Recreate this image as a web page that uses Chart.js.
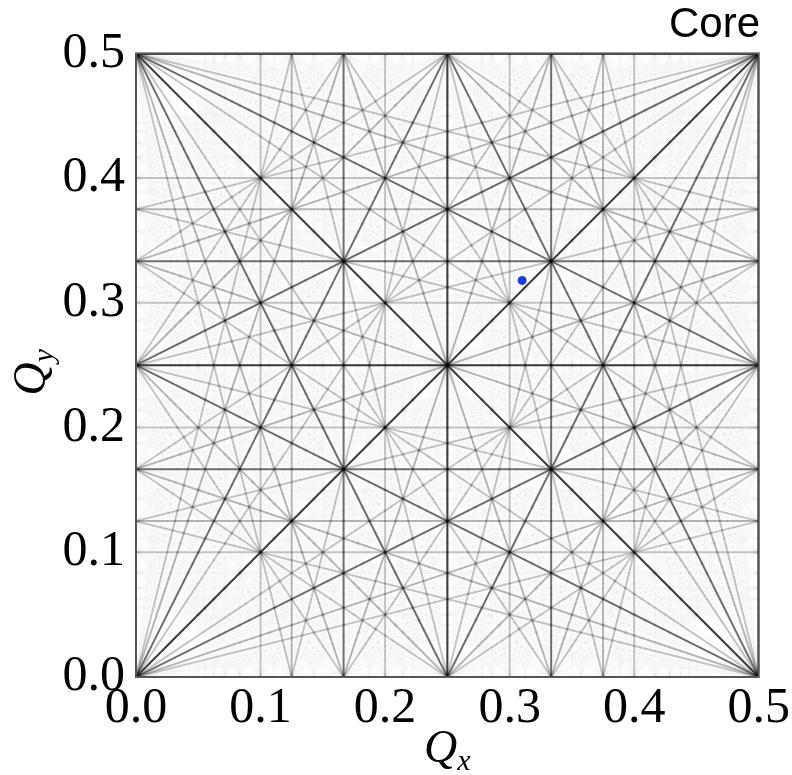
<!DOCTYPE html>
<html lang="en">
<head>
<meta charset="UTF-8">
<title>Core - tune diagram</title>
<script src="https://cdn.jsdelivr.net/npm/chart.js"></script>
<style>
  html, body { margin: 0; padding: 0; background: #fff; }
</style>
</head>
<body>
<canvas id="tuneChart" width="792" height="775"></canvas>
<script>
// resonance orders m*x + n*y = p (|m|+|n| = order) on the unit tune square,
// shown on the 0..0.5 axes; opacity of each order
const orders     = [1, 2, 3, 4, 5, 6, 7, 8, 9, 10];
const orderAlpha = [0.7, 0.65, 0.55, 0.28, 0.22, 0.03, 0.025, 0.02, 0.02, 0.02];
const axisScale  = 0.5;

// working point
const tuneQx = [0.31];
const tuneQy = [0.318];

const tickLabels = ['0.0', '0.1', '0.2', '0.3', '0.4', '0.5'];

// end points of m*x + n*y = p inside the unit square
function clipLine(m, n, p) {
    const eps = 1e-9;
    const pts = [];
    if (n !== 0) {
        for (const x of [0, 1]) {
            const y = (p - m * x) / n;
            if (y >= -eps && y <= 1 + eps) pts.push({ x: x, y: y });
        }
    }
    if (m !== 0) {
        for (const y of [0, 1]) {
            const x = (p - n * y) / m;
            if (x >= -eps && x <= 1 + eps) pts.push({ x: x, y: y });
        }
    }
    const uniq = [];
    for (const pt of pts) {
        if (!uniq.some(u => Math.abs(u.x - pt.x) < 1e-7 && Math.abs(u.y - pt.y) < 1e-7)) uniq.push(pt);
    }
    if (uniq.length < 2) return null;
    return uniq.slice(0, 2).map(pt => ({ x: pt.x * axisScale, y: pt.y * axisScale }));
}

const datasets = [];
orders.forEach((k, i) => {
    for (let m = 0; m <= k; m++) {
        const nAbs = k - m;
        const signs = (m === 0 || nAbs === 0) ? [1] : [1, -1];
        for (const s of signs) {
            const n = s * nAbs;
            const pMin = Math.ceil(Math.min(0, m) + Math.min(0, n) - 1e-9);
            const pMax = Math.floor(Math.max(0, m) + Math.max(0, n) + 1e-9);
            for (let p = pMin; p <= pMax; p++) {
                const seg = clipLine(m, n, p);
                if (!seg) continue;
                datasets.push({
                    data: seg,
                    showLine: true,
                    pointRadius: 0,
                    borderWidth: 2,
                    borderColor: 'rgba(0,0,0,' + orderAlpha[i] + ')'
                });
            }
        }
    }
});

datasets.push({
    data: tuneQx.map((x, i) => ({ x: x, y: tuneQy[i] })),
    showLine: false,
    pointRadius: 4.5,
    pointBorderWidth: 0,
    backgroundColor: '#1f3fe0',
    borderColor: '#1f3fe0'
});

// frame and math-style axis titles
const framePlugin = {
    id: 'frame',
    afterDraw(chart) {
        const { ctx, chartArea: a } = chart;
        ctx.save();
        ctx.strokeStyle = '#555';
        ctx.lineWidth = 2;
        ctx.strokeRect(a.left, a.top, a.right - a.left, a.bottom - a.top);

        ctx.fillStyle = '#000';
        ctx.textBaseline = 'alphabetic';
        // Q_x
        ctx.font = 'italic 46px "Liberation Serif"';
        let w = ctx.measureText('Q').width;
        ctx.font = 'italic 30px "Liberation Serif"';
        let ws = ctx.measureText('x').width;
        let x0 = (a.left + a.right) / 2 - (w + ws) / 2;
        ctx.font = 'italic 46px "Liberation Serif"';
        ctx.fillText('Q', x0, 762);
        ctx.font = 'italic 30px "Liberation Serif"';
        ctx.fillText('x', x0 + w, 770);

        // Q_y
        ctx.translate(45, (a.top + a.bottom) / 2 + 7);
        ctx.rotate(-Math.PI / 2);
        ctx.font = 'italic 46px "Liberation Serif"';
        w = ctx.measureText('Q').width;
        ctx.font = 'italic 30px "Liberation Serif"';
        ws = ctx.measureText('y').width;
        x0 = -(w + ws) / 2;
        ctx.font = 'italic 46px "Liberation Serif"';
        ctx.fillText('Q', x0, 0);
        ctx.font = 'italic 30px "Liberation Serif"';
        ctx.fillText('y', x0 + w, 8);
        ctx.restore();
    }
};

const tickFont = { family: '"Liberation Serif", serif', size: 50 };

new Chart(document.getElementById('tuneChart').getContext('2d'), {
    type: 'scatter',
    data: { datasets: datasets },
    options: {
        responsive: false,
        animation: false,
        devicePixelRatio: 1,
        layout: { padding: { left: 0, right: 32, top: 0, bottom: 0 } },
        plugins: {
            legend: { display: false },
            tooltip: { enabled: false },
            title: {
                display: true,
                text: 'Core',
                align: 'end',
                color: '#000',
                font: { family: '"Liberation Sans", Arial, sans-serif', size: 42, weight: 'normal' },
                padding: { top: 0, bottom: 3 }
            }
        },
        scales: {
            x: {
                type: 'linear',
                min: 0,
                max: 0.5,
                grid: { display: false, drawTicks: false },
                border: { display: false },
                ticks: {
                    stepSize: 0.1,
                    autoSkip: false,
                    maxRotation: 0,
                    color: '#000',
                    font: tickFont,
                    padding: 2,
                    callback: (v, i) => tickLabels[i]
                },
                afterFit: s => { s.height = 98; }
            },
            y: {
                type: 'linear',
                min: 0,
                max: 0.5,
                grid: { display: false, drawTicks: false },
                border: { display: false },
                ticks: {
                    stepSize: 0.1,
                    autoSkip: false,
                    color: '#000',
                    font: tickFont,
                    padding: 11,
                    callback: (v, i) => tickLabels[i]
                },
                afterFit: s => { s.width = 136; }
            }
        }
    },
    plugins: [framePlugin]
});
</script>
</body>
</html>
